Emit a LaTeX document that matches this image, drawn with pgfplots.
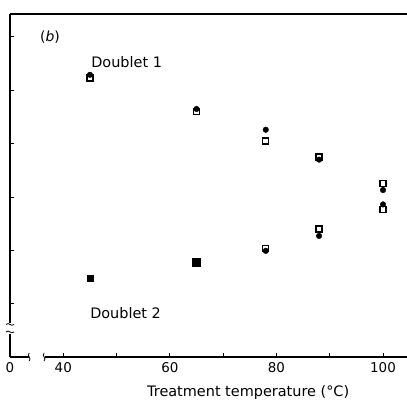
\documentclass[border=0pt]{standalone}
\usepackage{fontspec}
\setmainfont{DejaVu Sans}
\usepackage{pgfplots}
\pgfplotsset{compat=1.18}
\begin{document}
\begin{tikzpicture}
\begin{axis}[
    scale only axis,
    width=397bp, height=343bp,
    xmin=30, xmax=104.5,
    ymin=0, ymax=6.43,
    axis x line*=bottom, axis y line*=left,
    axis line style={line width=1.1pt, -},
    xtick={40,50,...,100},
    xticklabels={40,,60,,80,,100},
    extra x ticks={30},
    extra x tick labels={0},
    extra x tick style={major tick length=0pt},
    ytick={1,2,...,6},
    yticklabels={},
    tick align=inside,
    major tick length=4bp,
    tick style={line width=0.9pt, black},
    x tick label style={font=\fontsize{13.5}{15}\selectfont, yshift=-2bp},
    /pgf/number format/assume math mode=true,
    xlabel={Treatment temperature (°C)},
    xlabel style={font=\fontsize{14.5}{17}\selectfont, at={(0.6,0)}, anchor=center, yshift=-36bp},
    clip=false,
  ]
  % Doublet 1
  \addplot[only marks, mark=*, mark size=2.8bp, black]
    coordinates {(45,5.29) (65,4.65) (78,4.26) (88,3.70) (100,3.13)};
  \addplot[only marks, mark=square, mark size=3bp, black, mark options={fill=white, line width=1.2pt}]
    coordinates {(45,5.23) (65,4.60) (78,4.05) (88,3.75) (100,3.25)};
  % Doublet 2
  \addplot[only marks, mark=*, mark size=2.8bp, black]
    coordinates {(78,1.99) (88,2.27) (100,2.86)};
  \addplot[only marks, mark=square, mark size=3bp, black, mark options={fill=white, line width=1.2pt}]
    coordinates {(78,2.04) (88,2.40) (100,2.77)};
  \addplot[only marks, mark=square*, mark size=3.2bp, black]
    coordinates {(45,1.48)};
  \addplot[only marks, mark=square*, mark size=4bp, black]
    coordinates {(65,1.78)};

  \node[anchor=west, font=\fontsize{14}{17}\selectfont] at (axis cs:35.0,6.0) {(\textit{b})};
  \node[anchor=west, font=\fontsize{14.5}{17}\selectfont] at (axis cs:44.6,5.53) {Doublet 1};
  \node[anchor=west, font=\fontsize{14.5}{17}\selectfont] at (axis cs:44.4,0.83) {Doublet 2};

  % axis breaks
  \fill[white] ([xshift=-3bp]axis cs:30,0.44) rectangle ([xshift=3bp]axis cs:30,0.64);
  \draw[line width=0.8pt] ([shift={(-4bp,0bp)}]axis cs:30,0.47) .. controls +(3bp,3bp) and +(-3bp,-3bp) .. ([shift={(4bp,0bp)}]axis cs:30,0.47);
  \draw[line width=0.8pt] ([shift={(-4bp,0bp)}]axis cs:30,0.61) .. controls +(3bp,3bp) and +(-3bp,-3bp) .. ([shift={(4bp,0bp)}]axis cs:30,0.61);
  \fill[white] ([yshift=-3bp]axis cs:33.5,0) rectangle ([yshift=3bp]axis cs:36.5,0);
  \draw[line width=0.8pt] ([shift={(0bp,-4bp)}]axis cs:33.6,0) .. controls +(3bp,3bp) and +(-3bp,-3bp) .. ([shift={(0bp,4bp)}]axis cs:33.6,0);
  \draw[line width=0.8pt] ([shift={(0bp,-4bp)}]axis cs:36.4,0) .. controls +(3bp,3bp) and +(-3bp,-3bp) .. ([shift={(0bp,4bp)}]axis cs:36.4,0);

  \draw[line width=1.1pt] (rel axis cs:0,1) -- (rel axis cs:1,1);
  \coordinate (o) at (rel axis cs:0,0);
  \coordinate (tr) at (rel axis cs:1,1);
\end{axis}
\pgfresetboundingbox
\path[use as bounding box] ([shift={(-10bp,-46bp)}]o) rectangle ([shift={(0bp,14bp)}]tr);
\end{tikzpicture}
\end{document}
